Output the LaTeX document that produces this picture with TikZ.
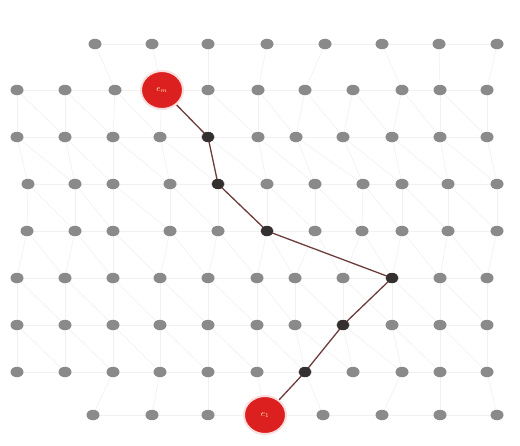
\documentclass[tikz,border=0pt]{standalone}
\usetikzlibrary{shapes.geometric}
\definecolor{dotgray}{HTML}{8A8A8A}
\definecolor{pathdark}{HTML}{353030}
\definecolor{endred}{HTML}{DC1F1F}
\definecolor{edgecol}{HTML}{6E3C3C}
\definecolor{meshcol}{HTML}{F1F1F1}
\begin{document}
\begin{tikzpicture}[x=1pt,y=-1pt,
  griddot/.style={ellipse,fill=dotgray,inner sep=0pt,minimum width=13pt,minimum height=10.5pt},
  pathdot/.style={ellipse,fill=pathdark,inner sep=0pt,minimum width=12pt,minimum height=10pt},
  endnode/.style={ellipse,fill=endred,draw=endred!15,line width=2pt,inner sep=0pt,minimum width=42pt,minimum height=38pt,text=yellow!25!white,font=\small},
  meshline/.style={draw=meshcol,line width=0.6pt},
  pathline/.style={draw=edgecol,line width=1.3pt}]
\useasboundingbox (0,0) rectangle (520,445);
\fill[white] (0,0) rectangle (520,445);
% grid coordinates
\foreach \r/\y/\xs in {
  1/44/{95,152,208,267,325,382,439,497},
  2/90/{17,65,115,162,208,258,305,353,402,440,487},
  3/137/{17,65,113,160,208,258,296,343,392,440,487},
  4/184/{28,75,113,170,218,267,315,363,402,448,497},
  5/231/{27,75,113,170,218,267,315,362,402,448,497},
  6/278/{17,65,113,160,208,257,295,343,392,440,487},
  7/325/{17,65,113,160,208,257,295,343,392,440,487},
  8/372/{17,65,113,160,208,257,305,353,402,440,487},
  9/415/{93,152,208,265,323,382,440,497}}{
  \foreach \x [count=\i] in \xs { \coordinate (g-\r-\i) at (\x,\y); }
}
% faint mesh
\foreach \r in {2,...,8}{
  \foreach \i [evaluate=\i as \j using int(\i+1)] in {1,...,10}{
    \path[meshline] (g-\r-\i) -- (g-\r-\j);
  }
}
\foreach \r in {1,9}{
  \foreach \i [evaluate=\i as \j using int(\i+1)] in {1,...,7}{
    \path[meshline] (g-\r-\i) -- (g-\r-\j);
  }
}
\foreach \r [evaluate=\r as \s using int(\r+1)] in {2,...,7}{
  \foreach \i [evaluate=\i as \j using int(\i+1)] in {1,...,10}{
    \path[meshline] (g-\r-\i) -- (g-\s-\i);
    \path[meshline] (g-\r-\i) -- (g-\s-\j);
  }
  \path[meshline] (g-\r-11) -- (g-\s-11);
}
\foreach \a/\b in {1/3,2/4,3/5,4/6,5/7,6/9,7/10,8/11}{
  \path[meshline] (g-1-\a) -- (g-2-\b);
  \path[meshline] (g-9-\a) -- (g-8-\b);
}
% grid dots
\foreach \r/\n in {1/8,2/11,3/11,4/11,5/11,6/11,7/11,8/11,9/8}{
  \foreach \i in {1,...,\n}{ \node[griddot] (n-\r-\i) at (g-\r-\i) {}; }
}
% path
\node[endnode] (vm) at (g-2-4) {$e_m$};
\node[pathdot] (p1) at (g-3-5) {};
\node[pathdot] (p2) at (g-4-5) {};
\node[pathdot] (p3) at (g-5-6) {};
\node[pathdot] (p4) at (g-6-9) {};
\node[pathdot] (p5) at (g-7-8) {};
\node[pathdot] (p6) at (g-8-7) {};
\node[endnode] (v1) at (g-9-4) {$e_1$};
\draw[pathline] (vm) -- (p1.center) -- (p2.center) -- (p3.center) -- (p4.center) -- (p5.center) -- (p6.center) -- (v1);
\foreach \p in {p1,p2,p3,p4,p5,p6}{ \node[pathdot] at (\p) {}; }
\end{tikzpicture}
\end{document}
